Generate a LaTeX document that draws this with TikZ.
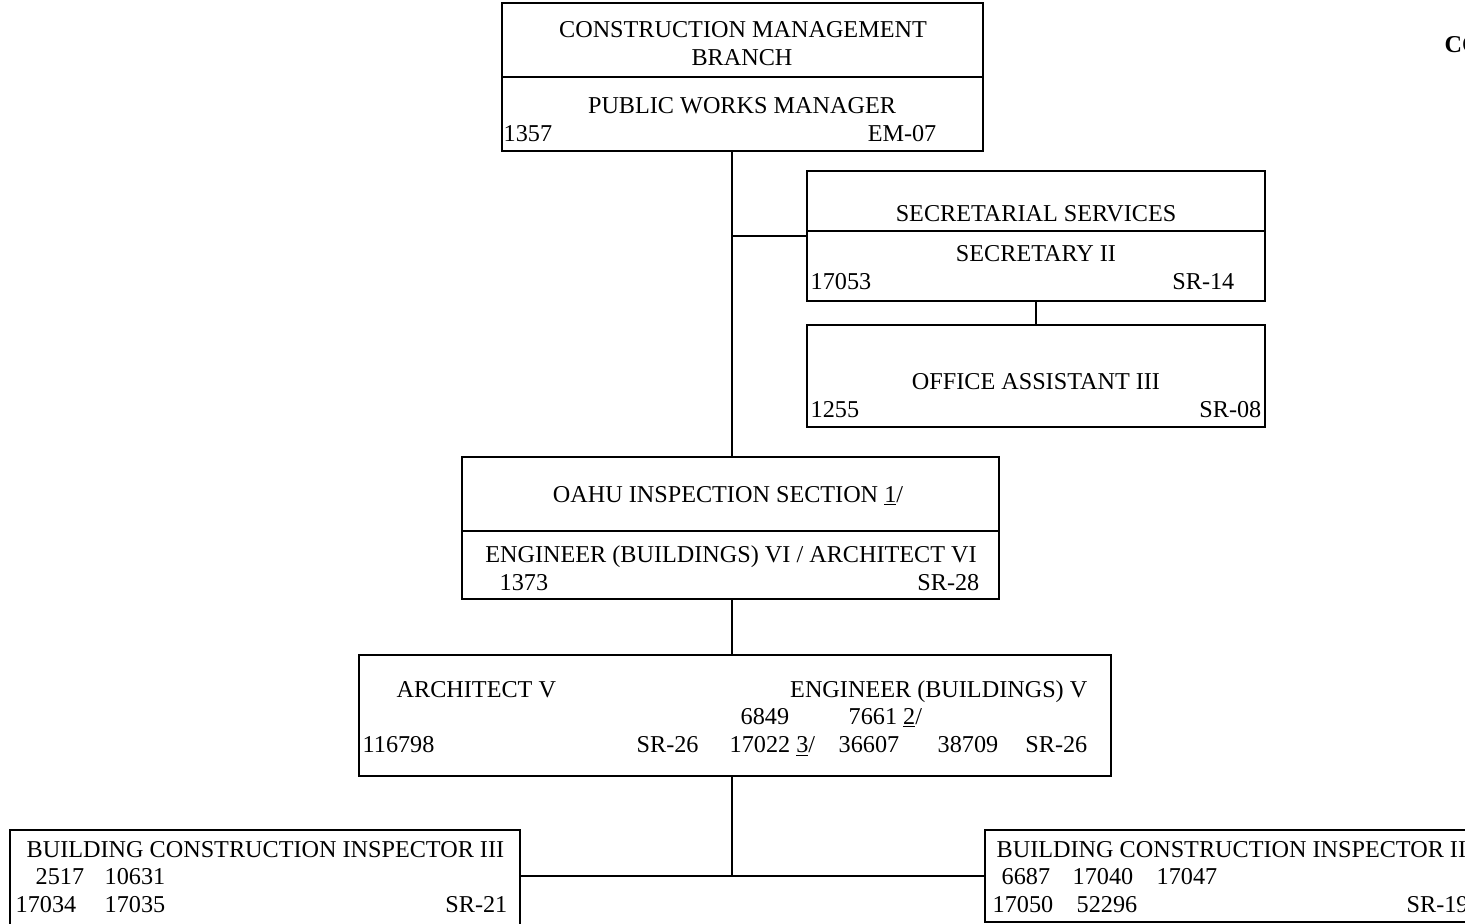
\documentclass[tikz,border=0pt]{standalone}
\usepackage{fontspec}
\setmainfont{Liberation Serif}
\usepackage{tikz}
\usetikzlibrary{positioning}
\tikzset{every node/.style={font=\fontsize{12.1}{14}\selectfont}}

\begin{document}
\begin{tikzpicture}[
  x=0.5pt, y=-0.5pt,
  line width=0.7pt,
  box/.style={draw, rectangle, inner sep=0pt, line width=0.7pt},
  txt/.style={anchor=base, inner sep=0pt},
  txtw/.style={anchor=base west, inner sep=0pt},
  txte/.style={anchor=base east, inner sep=0pt}
]
\useasboundingbox (0,0) rectangle (1465,923);
\clip (0,0) rectangle (1465,923);

% boxes
\node[box, minimum width=240.5pt, minimum height=74pt] (top) at (742.5,77) {};
\node[box, minimum width=229pt, minimum height=65pt] (sec) at (1036,236) {};
\node[box, minimum width=229pt, minimum height=51pt] (off) at (1036,376) {};
\node[box, minimum width=268.5pt, minimum height=71pt] (oahu) at (730.5,528) {};
\node[box, minimum width=376pt, minimum height=60.5pt] (eng) at (735,715.5) {};
\node[box, minimum width=255pt, minimum height=70pt] (bcil) at (265,900) {};
\node[box, minimum width=258pt, minimum height=46pt] (bcir) at (1243,876) {};

\draw (top.west) -- (top.east);
\draw ([yshift=2.5pt]sec.west) -- ([yshift=2.5pt]sec.east);
\draw ([yshift=-1.5pt]oahu.west) -- ([yshift=-1.5pt]oahu.east);

% texts
\node[txt] (t1) at (743,37.5) {CONSTRUCTION MANAGEMENT};
\node[txt] (t2) at (742,65.5) {BRANCH};
\node[txt] (t3) at (742,113) {PUBLIC WORKS MANAGER};
\node[txtw] (t4) at (503,141) {1357};
\node[txte] (t5) at (937,141) {EM-07};

\node[txtw, font=\fontsize{12.1}{14}\selectfont\bfseries] (co) at (1444,52) {CO};

\node[txt] (s1) at (1036,221) {SECRETARIAL SERVICES};
\node[txt] (s2) at (1036,261) {SECRETARY II};
\node[txtw] (s3) at (810,289) {17053};
\node[txte] (s4) at (1235,289) {SR-14};

\node[txt] (o1) at (1036,389) {OFFICE ASSISTANT III};
\node[txtw] (o2) at (810,417) {1255};
\node[txte] (o3) at (1262,417) {SR-08};

\node[txt] (a1) at (728,502) {OAHU INSPECTION SECTION \underline{1}/};
\node[txt] (a2) at (731,562) {ENGINEER (BUILDINGS) VI / ARCHITECT VI};
\node[txtw] (a3) at (499,590) {1373};
\node[txte] (a4) at (980,590) {SR-28};

\node[txtw] (e1) at (396,697) {ARCHITECT V};
\node[txte] (e2) at (1088,697) {ENGINEER (BUILDINGS) V};
\node[txtw] (e3) at (740,724) {6849};
\node[txtw] (e4) at (848,724) {7661 \underline{2}/};
\node[txtw] (e5) at (362,752) {116798};
\node[txtw] (e6) at (636,752) {SR-26};
\node[txtw] (e7) at (729,752) {17022 \underline{3}/};
\node[txtw] (e8) at (838,752) {36607};
\node[txtw] (e9) at (937,752) {38709};
\node[txte] (e10) at (1088,752) {SR-26};

\node[txtw] (l1) at (26,857) {BUILDING CONSTRUCTION INSPECTOR III};
\node[txtw] (l2) at (35,884) {2517};
\node[txtw] (l3) at (104,884) {10631};
\node[txtw] (l4) at (15,912) {17034};
\node[txtw] (l5) at (104,912) {17035};
\node[txte] (l6) at (508,912) {SR-21};

\node[txtw] (r1) at (996,857) {BUILDING CONSTRUCTION INSPECTOR II};
\node[txtw] (r2) at (1001,884) {6687};
\node[txtw] (r3) at (1072,884) {17040};
\node[txtw] (r4) at (1156,884) {17047};
\node[txtw] (r5) at (992,912) {17050};
\node[txtw] (r6) at (1076,912) {52296};
\node[txtw] (r7) at (1406,912) {SR-19};

% connectors
\coordinate (spine) at (732,0);
\coordinate (jn) at (732,876);
\draw (top.south -| spine) -- (oahu.north -| spine);
\draw (sec.west) -- (sec.west -| spine);
\draw (sec.south) -- (off.north);
\draw (oahu.south -| spine) -- (eng.north -| spine);
\draw (eng.south -| spine) -- (jn);
\draw (bcil.east |- jn) -- (bcir.west |- jn);

\end{tikzpicture}
\end{document}
